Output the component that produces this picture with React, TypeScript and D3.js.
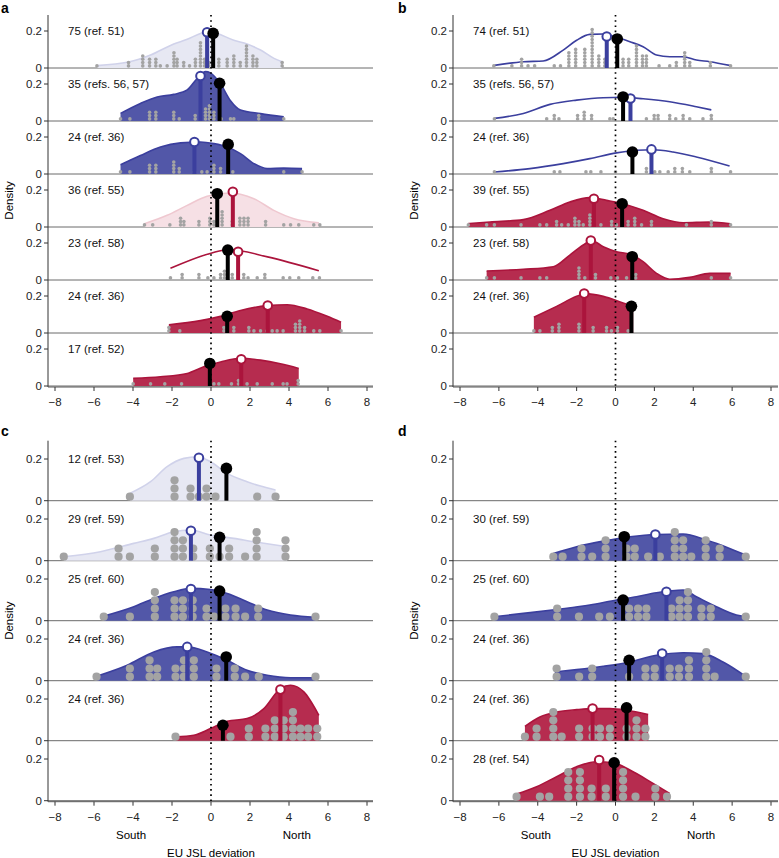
import React from "react";
import * as d3 from "d3";

type Pt = [number, number];

const xTicks = [-8, -6, -4, -2, 0, 2, 4, 6, 8];
const yTicks = [0, 0.2];

// ---------- Panel a ----------
const a1Curve: Pt[] = [[-5.85,0.013],[-4.23,0.032],[-3.1,0.07],[-1.91,0.13],[-1.22,0.155],[-0.54,0.187],[-0.11,0.2],[0.32,0.187],[1.17,0.15],[1.85,0.13],[2.54,0.097],[3.23,0.052],[3.65,0.034]];
const a1Dots: Pt[] = [[-5.85,1],[-4.23,2],[-3.5,4],[-3.15,3],[-2.83,3],[-2.6,1],[-2.25,1],[-1.9,5],[-1.74,3],[-1.4,2],[-1.1,1],[-0.8,3],[-0.54,8],[-0.33,3],[-0.11,2],[0.4,3],[0.83,3],[1.17,4],[1.5,2],[1.82,7],[2.15,4],[2.35,3],[3.65,2]];
const a1Means: Pt[] = [[-0.2,0.193],[0.11,0.187]];

const a2Curve: Pt[] = [[-4.64,0.041],[-3.62,0.095],[-2.76,0.13],[-1.91,0.144],[-1.22,0.168],[-0.71,0.23],[-0.28,0.267],[-0.03,0.26],[0.49,0.2],[1.0,0.11],[1.51,0.06],[2.54,0.04],[3.73,0.023]];
const a2Dots: Pt[] = [[-4.64,1],[-4.16,1],[-3.15,3],[-2.83,3],[-1.91,3],[-1.63,1],[-0.81,2],[-0.28,4],[-0.08,5],[0.15,3],[0.52,1],[1.0,1],[1.17,1],[2.45,2],[3.73,1]];
const a2Means: Pt[] = [[-0.54,0.243],[0.44,0.204]];

const a3Curve: Pt[] = [[-4.64,0.05],[-3.62,0.1],[-2.59,0.146],[-1.56,0.168],[-0.54,0.173],[0.15,0.164],[0.83,0.146],[1.51,0.11],[2.2,0.056],[2.88,0.029],[3.73,0.032],[4.67,0.029]];
const a3Dots: Pt[] = [[-4.64,1],[-4.16,1],[-3.15,3],[-2.83,3],[-1.91,4],[-1.63,2],[-0.85,1],[-0.47,1],[-0.2,1],[0.15,3],[0.49,2],[1.12,1],[3.73,1],[4.67,1]];
const a3Means: Pt[] = [[-0.85,0.173],[0.88,0.16]];

const a4Curve: Pt[] = [[-3.41,0.018],[-2.25,0.063],[-1.22,0.117],[-0.2,0.166],[1.0,0.184],[2.2,0.153],[3.22,0.09],[4.25,0.045],[5.53,0.023]];
const a4Dots: Pt[] = [[-3.41,1],[-2.99,1],[-2.11,1],[-1.56,3],[-1.39,2],[-0.62,2],[-0.06,3],[0.15,2],[0.57,5],[1.09,2],[1.48,3],[1.69,3],[1.9,3],[2.8,2],[3.73,1],[4.08,1],[4.5,1],[5.27,1],[5.58,1]];
const a4Means: Pt[] = [[1.12,0.19],[0.32,0.18]];

const a5Curve: Pt[] = [[-2.08,0.063],[0,0.145],[0.9,0.165],[2.9,0.125],[5.53,0.05]];
const a5Dots: Pt[] = [[-2.08,1],[-1.48,2],[-0.62,2],[-0.16,1],[0.15,1],[0.49,2],[0.69,3],[1.09,2],[1.68,2],[1.9,1],[2.37,1],[2.76,2],[3.7,1],[4.04,1],[4.5,1],[5.22,1],[5.56,1]];
const a5Means: Pt[] = [[1.39,0.153],[0.86,0.162]];

const a6Curve: Pt[] = [[-2.16,0.045],[-0.54,0.067],[0.49,0.09],[1.51,0.122],[2.88,0.148],[3.9,0.153],[4.93,0.13],[5.96,0.09],[6.67,0.058]];
const a6Dots: Pt[] = [[-2.16,2],[-1.6,1],[0.66,2],[1.17,2],[1.94,2],[2.2,1],[2.54,1],[2.88,1],[3.14,1],[3.39,1],[3.7,1],[4.33,3],[4.55,4],[4.8,2],[5.27,1],[5.58,1],[6.67,1]];
const a6Means: Pt[] = [[2.91,0.148],[0.83,0.09]];

const a7Curve: Pt[] = [[-3.99,0.041],[-2.59,0.05],[-1.22,0.068],[-0.37,0.104],[0.49,0.13],[1.51,0.15],[2.54,0.14],[3.56,0.12],[4.5,0.095]];
const a7Dots: Pt[] = [[-3.99,1],[-3.1,1],[-2.37,1],[-1.51,1],[0.15,1],[0.4,1],[1.05,1],[1.41,2],[1.85,1],[2.37,1],[3.14,1],[3.7,1],[3.9,1],[4.47,2]];
const a7Means: Pt[] = [[1.55,0.144],[-0.06,0.122]];

// ---------- Panel b ----------
const b1Curve: Pt[] = [[-6.23,0.014],[-4.74,0.034],[-3.72,0.038],[-2.69,0.097],[-2.0,0.15],[-1.32,0.182],[-0.63,0.184],[0.05,0.166],[0.74,0.142],[1.42,0.115],[2.11,0.07],[2.79,0.061],[3.48,0.061],[4.16,0.043],[4.85,0.034],[5.87,0.014]];
const b1Dots: Pt[] = [[-6.26,1],[-5.33,1],[-4.83,3],[-4.5,1],[-4.16,1],[-3.15,1],[-2.83,1],[-2.4,5],[-2.05,6],[-1.58,6],[-1.2,12],[-0.86,4],[-0.55,3],[0.39,3],[0.68,3],[1.08,7],[1.39,4],[1.59,4],[2.24,1],[2.79,1],[3.13,2],[3.56,5],[3.82,2],[4.88,2],[5.92,1]];
const b1Means: Pt[] = [[-0.45,0.17],[0.09,0.157]];

const b2Curve: Pt[] = [[-6.23,0.014],[-4.74,0.041],[-3.37,0.09],[-2.0,0.113],[-0.63,0.126],[0.39,0.128],[1.42,0.12],[2.79,0.104],[4.16,0.077],[4.93,0.06]];
const b2Dots: Pt[] = [[-6.23,1],[-3.54,1],[-3.15,2],[-2.91,1],[-1.95,2],[-1.61,3],[-1.23,2],[-0.29,1],[-0.12,1],[1.59,1],[1.99,2],[2.19,2],[2.79,2],[3.1,1],[3.48,2],[3.82,1],[4.5,1],[4.93,2]];
const b2Means: Pt[] = [[0.77,0.122],[0.39,0.13]];

const b3Curve: Pt[] = [[-6.23,0.011],[-4.4,0.029],[-2.69,0.056],[-1.32,0.083],[0.05,0.114],[1.08,0.128],[1.93,0.131],[2.96,0.119],[4.16,0.092],[5.87,0.043]];
const b3Dots: Pt[] = [[-6.23,1],[-3.15,1],[-2.86,1],[-1.52,1],[-1.27,1],[-0.75,1],[0,1],[1.59,2],[2.02,1],[2.28,1],[2.71,1],[3.05,2],[3.44,2],[3.82,1],[4.93,2],[5.92,1]];
const b3Means: Pt[] = [[1.85,0.133],[0.87,0.119]];

const b4Curve: Pt[] = [[-7.57,0.018],[-6.46,0.027],[-4.74,0.04],[-3.37,0.09],[-2.35,0.135],[-1.32,0.159],[-0.46,0.144],[0.39,0.126],[1.42,0.09],[2.45,0.045],[3.48,0.023],[4.85,0.027],[5.92,0.018]];
const b4Dots: Pt[] = [[-7.57,1],[-6.63,1],[-6.23,1],[-4.86,1],[-3.89,1],[-3.54,1],[-3.03,2],[-2.77,1],[-2.43,1],[-2.09,3],[-1.88,2],[-1.66,1],[-1.32,4],[-0.75,1],[-0.2,2],[0.05,1],[0.65,2],[0.99,3],[1.34,1],[1.85,2],[3.65,1],[4.93,2],[5.92,1]];
const b4Means: Pt[] = [[-1.11,0.153],[0.34,0.126]];

const b5Curve: Pt[] = [[-6.63,0.049],[-4.74,0.058],[-3.2,0.072],[-2.35,0.135],[-1.66,0.189],[-1.23,0.213],[-0.63,0.18],[0.05,0.153],[0.74,0.14],[1.42,0.099],[2.11,0.036],[2.79,0.004],[3.82,0.014],[4.85,0.036],[5.92,0.036]];
const b5Dots: Pt[] = [[-6.63,1],[-6.23,1],[-4.86,1],[-3.89,1],[-3.54,1],[-1.88,4],[-1.58,1],[-1.03,2],[-0.24,1],[0.1,1],[0.57,1],[1.04,2],[4.93,1],[5.92,1]];
const b5Means: Pt[] = [[-1.27,0.213],[0.86,0.126]];

const b6Curve: Pt[] = [[-4.2,0.085],[-3.03,0.144],[-2.0,0.198],[-1.58,0.213],[-0.63,0.198],[0.39,0.162],[0.91,0.144]];
const b6Dots: Pt[] = [[-4.2,1],[-3.89,1],[-3.25,2],[-2.91,3],[-1.88,3],[-1.15,2],[-0.46,2],[-0.21,1],[0.1,2],[0.65,1]];
const b6Means: Pt[] = [[-1.61,0.213],[0.82,0.144]];

// ---------- Panel c ----------
const c1Curve: Pt[] = [[-4.16,0.035],[-3.1,0.091],[-2.25,0.163],[-1.39,0.203],[-0.71,0.211],[-0.03,0.187],[0.83,0.131],[1.85,0.091],[2.54,0.07],[3.31,0.051]];
const c1Dots: Pt[] = [[-4.16,1],[-1.87,3],[-1.05,2],[-0.62,1],[-0.23,2],[0.23,1],[2.37,1],[3.31,1]];
const c1Means: Pt[] = [[-0.62,0.206],[0.79,0.155]];

const c2Curve: Pt[] = [[-7.55,0.019],[-5.67,0.043],[-3.96,0.083],[-2.93,0.107],[-1.91,0.139],[-1.05,0.147],[-0.03,0.123],[1.17,0.107],[2.2,0.091],[3.9,0.067]];
const c2Dots: Pt[] = [[-7.55,1],[-4.74,2],[-4.16,1],[-2.88,2],[-1.87,4],[-1.44,3],[-0.91,2],[-0.06,2],[0.44,1],[0.93,2],[1.75,1],[2.34,4],[3.82,3]];
const c2Means: Pt[] = [[-1.03,0.144],[0.44,0.112]];

const c3Curve: Pt[] = [[-5.5,0.022],[-3.96,0.067],[-2.93,0.107],[-1.91,0.139],[-1.05,0.155],[-0.03,0.15],[0.83,0.131],[1.85,0.091],[2.88,0.051],[4.08,0.027],[5.36,0.016]];
const c3Dots: Pt[] = [[-5.5,1],[-4.16,1],[-2.88,4],[-1.87,3],[-1.44,3],[-0.94,3],[-0.23,2],[0.15,1],[0.74,2],[1.26,2],[1.75,1],[2.42,2],[5.36,1]];
const c3Means: Pt[] = [[-1.03,0.152],[0.44,0.142]];

const c4Curve: Pt[] = [[-5.87,0.021],[-4.3,0.074],[-2.93,0.138],[-1.74,0.162],[-1.22,0.162],[-0.2,0.138],[0.83,0.098],[1.85,0.05],[2.88,0.026],[4.08,0.014],[5.36,0.014]];
const c4Dots: Pt[] = [[-5.87,1],[-4.16,2],[-3.15,3],[-2.76,2],[-1.82,2],[-1.39,3],[-0.88,3],[0.28,2],[1.22,2],[1.75,1],[2.45,1],[5.36,1]];
const c4Means: Pt[] = [[-1.22,0.162],[0.78,0.114]];

const c5Curve: Pt[] = [[-1.82,0.018],[-0.88,0.026],[-0.03,0.058],[0.83,0.093],[1.85,0.106],[2.71,0.154],[3.56,0.25],[4.08,0.266],[4.76,0.234],[5.53,0.122]];
const c5Dots: Pt[] = [[-1.82,1],[1.0,1],[1.94,2],[2.79,2],[3.27,3],[3.73,3],[4.2,4],[4.59,2],[4.98,2],[5.45,2]];
const c5Means: Pt[] = [[3.56,0.245],[0.61,0.074]];

// ---------- Panel d ----------
const d2Curve: Pt[] = [[-3.2,0.035],[-2.0,0.067],[-0.63,0.094],[0.74,0.115],[2.11,0.126],[3.48,0.128],[4.67,0.099],[5.87,0.059],[6.7,0.027]];
const d2Dots: Pt[] = [[-3.2,1],[-2.72,1],[-1.75,2],[-1.2,1],[-0.51,3],[0.57,2],[0.99,2],[1.68,1],[2.28,1],[3.05,4],[3.48,3],[3.9,1],[4.64,3],[5.36,2],[6.7,1]];
const d2Means: Pt[] = [[2.05,0.126],[0.45,0.115]];

const d3Curve: Pt[] = [[-6.23,0.019],[-4.74,0.035],[-3.03,0.054],[-1.32,0.075],[0.05,0.099],[1.08,0.115],[2.11,0.134],[3.48,0.147],[4.16,0.115],[5.19,0.067],[6.22,0.027],[6.7,0.019]];
const d3Dots: Pt[] = [[-6.23,1],[-3.0,2],[-1.88,1],[-0.84,1],[-0.29,1],[0.7,2],[1.16,2],[1.59,2],[2.88,2],[3.3,3],[3.73,4],[4.42,2],[4.9,2],[6.7,1]];
const d3Means: Pt[] = [[2.62,0.139],[0.39,0.099]];

const d4Curve: Pt[] = [[-3.12,0.042],[-2.0,0.053],[-0.63,0.069],[0.74,0.09],[2.11,0.122],[3.48,0.134],[4.5,0.13],[5.53,0.09],[6.7,0.021]];
const d4Dots: Pt[] = [[-3.03,2],[-1.87,1],[-1.2,2],[0.7,1],[1.54,2],[2.02,2],[2.79,2],[3.27,2],[3.78,3],[4.67,4],[5.1,1],[6.7,1]];
const d4Means: Pt[] = [[2.4,0.13],[0.7,0.098]];

const d5Curve: Pt[] = [[-4.66,0.069],[-3.89,0.114],[-3.03,0.138],[-2.0,0.149],[-1.15,0.154],[-0.29,0.154],[0.57,0.146],[1.68,0.125]];
const d5Dots: Pt[] = [[-4.66,1],[-4.06,2],[-3.2,4],[-2.77,1],[-1.87,2],[-1.18,2],[-0.8,2],[-0.29,2],[0.57,2],[1.08,3],[1.54,2]];
const d5Means: Pt[] = [[-1.18,0.154],[0.57,0.158]];

const d6Curve: Pt[] = [[-5.09,0.032],[-4.06,0.067],[-3.03,0.115],[-2.0,0.163],[-0.98,0.187],[-0.12,0.182],[0.74,0.147],[1.93,0.083],[2.79,0.035]];
const d6Dots: Pt[] = [[-5.09,1],[-3.89,1],[-3.41,1],[-2.43,4],[-1.83,4],[-1.23,2],[-0.5,2],[0.39,4],[1.03,1],[2.05,2],[2.65,1]];
const d6Means: Pt[] = [[-0.84,0.195],[-0.07,0.182]];

// ---------- styles ----------
const BLUE_STROKE = "#3b3f9e";
const RED_STROKE = "#ab143c";
const STYLES: Record<string, { fill: string | null; stroke: string; stem: string }> = {
  blue: { fill: "#5257a8", stroke: BLUE_STROKE, stem: BLUE_STROKE },
  lightblue: { fill: "#e7e8f3", stroke: "#d0d2ea", stem: BLUE_STROKE },
  red: { fill: "#b62c4f", stroke: RED_STROKE, stem: RED_STROKE },
  pink: { fill: "#f6e0e5", stroke: "#efc8d0", stem: RED_STROKE },
  blueLine: { fill: null, stroke: BLUE_STROKE, stem: BLUE_STROKE },
  redLine: { fill: null, stroke: RED_STROKE, stem: RED_STROKE },
};

type Row = { label: string; style: string; curve: Pt[]; dots: Pt[]; means: Pt[] } | null;

const rowsA: Row[] = [
  { label: "75 (ref. 51)", style: "lightblue", curve: a1Curve, dots: a1Dots, means: a1Means },
  { label: "35 (refs. 56, 57)", style: "blue", curve: a2Curve, dots: a2Dots, means: a2Means },
  { label: "24 (ref. 36)", style: "blue", curve: a3Curve, dots: a3Dots, means: a3Means },
  { label: "36 (ref. 55)", style: "pink", curve: a4Curve, dots: a4Dots, means: a4Means },
  { label: "23 (ref. 58)", style: "redLine", curve: a5Curve, dots: a5Dots, means: a5Means },
  { label: "24 (ref. 36)", style: "red", curve: a6Curve, dots: a6Dots, means: a6Means },
  { label: "17 (ref. 52)", style: "red", curve: a7Curve, dots: a7Dots, means: a7Means },
];
const rowsB: Row[] = [
  { label: "74 (ref. 51)", style: "blueLine", curve: b1Curve, dots: b1Dots, means: b1Means },
  { label: "35 (refs. 56, 57)", style: "blueLine", curve: b2Curve, dots: b2Dots, means: b2Means },
  { label: "24 (ref. 36)", style: "blueLine", curve: b3Curve, dots: b3Dots, means: b3Means },
  { label: "39 (ref. 55)", style: "red", curve: b4Curve, dots: b4Dots, means: b4Means },
  { label: "23 (ref. 58)", style: "red", curve: b5Curve, dots: b5Dots, means: b5Means },
  { label: "24 (ref. 36)", style: "red", curve: b6Curve, dots: b6Dots, means: b6Means },
  null,
];
const rowsC: Row[] = [
  { label: "12 (ref. 53)", style: "lightblue", curve: c1Curve, dots: c1Dots, means: c1Means },
  { label: "29 (ref. 59)", style: "lightblue", curve: c2Curve, dots: c2Dots, means: c2Means },
  { label: "25 (ref. 60)", style: "blue", curve: c3Curve, dots: c3Dots, means: c3Means },
  { label: "24 (ref. 36)", style: "blue", curve: c4Curve, dots: c4Dots, means: c4Means },
  { label: "24 (ref. 36)", style: "red", curve: c5Curve, dots: c5Dots, means: c5Means },
  null,
];
const rowsD: Row[] = [
  null,
  { label: "30 (ref. 59)", style: "blue", curve: d2Curve, dots: d2Dots, means: d2Means },
  { label: "25 (ref. 60)", style: "blue", curve: d3Curve, dots: d3Dots, means: d3Means },
  { label: "24 (ref. 36)", style: "blue", curve: d4Curve, dots: d4Dots, means: d4Means },
  { label: "24 (ref. 36)", style: "red", curve: d5Curve, dots: d5Dots, means: d5Means },
  { label: "28 (ref. 54)", style: "red", curve: d6Curve, dots: d6Dots, means: d6Means },
];

type Panel = {
  letter: string; lx: number; ly: number;
  r0: number; r1: number; axisX: number; right: number;
  top: number; rowH: number; dScale: number;
  dotR: number; dotGap: number; dotBase: number;
  rows: Row[]; xlabel: boolean;
};

const panels: Panel[] = [
  { letter: "a", lx: 1, ly: 12.5, r0: 55, r1: 367, axisX: 48, right: 373, top: 15, rowH: 53, dScale: 185, dotR: 1.8, dotGap: 3.3, dotBase: 2.1, rows: rowsA, xlabel: false },
  { letter: "b", lx: 398, ly: 12.5, r0: 460, r1: 771, axisX: 453, right: 778, top: 15, rowH: 53, dScale: 185, dotR: 1.8, dotGap: 3.3, dotBase: 2.1, rows: rowsB, xlabel: false },
  { letter: "c", lx: 1, ly: 436, r0: 55, r1: 367, axisX: 48, right: 373, top: 440.7, rowH: 60, dScale: 208.5, dotR: 4.1, dotGap: 8.2, dotBase: 4, rows: rowsC, xlabel: true },
  { letter: "d", lx: 398, ly: 436, r0: 460, r1: 771, axisX: 453, right: 778, top: 440.7, rowH: 60, dScale: 208.5, dotR: 4.1, dotGap: 8.2, dotBase: 4, rows: rowsD, xlabel: true },
];

const FONT = "'Liberation Sans', Arial, Helvetica, sans-serif";

function PanelView({ p }: { p: Panel }) {
  const x = d3.scaleLinear().domain([-8, 8]).range([p.r0, p.r1]);
  const n = p.rows.length;
  const bottom = p.top + p.rowH * n;
  const axisY = bottom + 1;
  const base = (i: number) => p.top + p.rowH * (i + 1);
  return (
    <g fontFamily={FONT}>
      <text x={p.lx} y={p.ly} fontSize={14} fontWeight={900}>{p.letter}</text>
      <text transform={`translate(${p.axisX - 39},${(p.top + bottom) / 2}) rotate(-90)`} textAnchor="middle" dominantBaseline="central" fontSize={11.5}>Density</text>
      {p.rows.map((row, i) => {
        const b = base(i);
        const y = d3.scaleLinear().domain([0, 1]).range([b, b - p.dScale]);
        const st = row ? STYLES[row.style] : null;
        const area = d3.area<Pt>().x(d => x(d[0])).y0(b).y1(d => y(d[1])).curve(d3.curveMonotoneX);
        const line = d3.line<Pt>().x(d => x(d[0])).y(d => y(d[1])).curve(d3.curveMonotoneX);
        return (
          <g key={i}>
            <line x1={p.axisX} x2={p.right} y1={b} y2={b} stroke="#6a6a6a" strokeWidth={1} />
            {yTicks.map(t => (
              <g key={t}>
                <line x1={p.axisX - 4} x2={p.axisX} y1={y(t)} y2={y(t)} stroke="#333" strokeWidth={1} />
                <text x={p.axisX - 6} y={y(t)} textAnchor="end" dominantBaseline="central" fontSize={11.5} fill="#222">{t === 0 ? "0" : "0.2"}</text>
              </g>
            ))}
            {row && st && (
              <g>
                {st.fill && <path d={area(row.curve) || ""} fill={st.fill} />}
                <path d={line(row.curve) || ""} fill="none" stroke={st.stroke} strokeWidth={1.6} />
                {row.dots.map(([v, c], k) =>
                  d3.range(c).map(j => (
                    <circle key={`${k}-${j}`} cx={x(v)} cy={b - p.dotBase - j * p.dotGap} r={p.dotR} fill="#a3a3a3" />
                  ))
                )}
                <text x={p.axisX + 20} y={y(0.2)} dominantBaseline="central" fontSize={11.5} fill="#111">{row.label}</text>
              </g>
            )}
          </g>
        );
      })}
      <line x1={x(0)} x2={x(0)} y1={p.top} y2={axisY} stroke="#000" strokeWidth={1.7} strokeDasharray="1.6 3.6" />
      {p.rows.map((row, i) => {
        if (!row) return null;
        const b = base(i);
        const y = d3.scaleLinear().domain([0, 1]).range([b, b - p.dScale]);
        const st = STYLES[row.style];
        const [m, r] = row.means;
        return (
          <g key={`l${i}`}>
            <line x1={x(m[0])} x2={x(m[0])} y1={b} y2={y(m[1])} stroke={st.stem} strokeWidth={4} />
            <circle cx={x(m[0])} cy={y(m[1])} r={4.3} fill="#fff" stroke={st.stem} strokeWidth={2} />
            <line x1={x(r[0])} x2={x(r[0])} y1={b} y2={y(r[1])} stroke="#000" strokeWidth={4} />
            <circle cx={x(r[0])} cy={y(r[1])} r={5.8} fill="#000" />
          </g>
        );
      })}
      <line x1={p.axisX} x2={p.axisX} y1={p.top} y2={axisY} stroke="#333" strokeWidth={1} />
      <line x1={p.axisX} x2={p.right} y1={axisY} y2={axisY} stroke="#555" strokeWidth={1} />
      {xTicks.map(t => (
        <g key={t}>
          <line x1={x(t)} x2={x(t)} y1={axisY} y2={axisY + 4} stroke="#333" strokeWidth={1} />
          <text x={x(t)} y={axisY + 15} textAnchor="middle" dominantBaseline="central" fontSize={11.5} fill="#222">{t < 0 ? `\u2212${-t}` : `${t}`}</text>
        </g>
      ))}
      {p.xlabel && (
        <g>
          <text x={x(-4.1)} y={axisY + 33} textAnchor="middle" dominantBaseline="central" fontSize={11.5}>South</text>
          <text x={x(4.4)} y={axisY + 33} textAnchor="middle" dominantBaseline="central" fontSize={11.5}>North</text>
          <text x={x(0)} y={axisY + 51} textAnchor="middle" dominantBaseline="central" fontSize={11.5}>EU JSL deviation</text>
        </g>
      )}
    </g>
  );
}

export default function App() {
  return (
    <svg width={779} height={858} style={{ position: "absolute", left: 0, top: 0, display: "block", background: "#fff" }}>
      {panels.map(p => <PanelView key={p.letter} p={p} />)}
    </svg>
  );
}
